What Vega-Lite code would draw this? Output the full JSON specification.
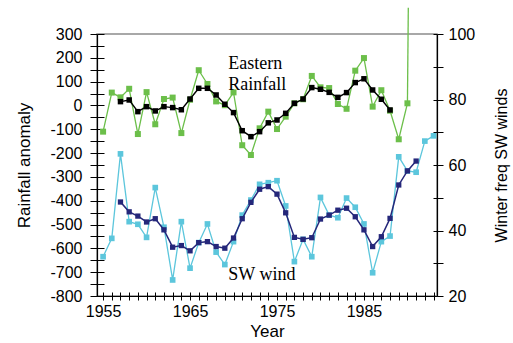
{
  "$schema": "https://vega.github.io/schema/vega-lite/v6.json",
  "width": 340,
  "height": 262,
  "autosize": {"type": "none"},
  "padding": {"left": 97, "top": 34, "right": 76, "bottom": 47},
  "background": "white",
  "config": {
    "font": "Liberation Sans",
    "view": {"stroke": "#8c8c8c", "strokeWidth": 1.5},
    "axis": {"grid": false, "domainColor": "#000", "tickColor": "#000", "labelColor": "#000", "titleColor": "#000", "labelFontSize": 16, "titleFontSize": 17, "titleFontWeight": "normal", "labelOverlap": false, "labelFlush": false, "domainWidth": 1.2, "tickWidth": 1}
  },
  "datasets": {
    "east": [
      {"year": 1955, "east": -110}, {"year": 1956, "east": 54}, {"year": 1957, "east": 34}, {"year": 1958, "east": 70},
      {"year": 1959, "east": -120}, {"year": 1960, "east": 56}, {"year": 1961, "east": -79}, {"year": 1962, "east": 27},
      {"year": 1963, "east": 33}, {"year": 1964, "east": -116}, {"year": 1965, "east": 24}, {"year": 1966, "east": 148},
      {"year": 1967, "east": 90}, {"year": 1968, "east": 17}, {"year": 1969, "east": 1}, {"year": 1970, "east": 55},
      {"year": 1971, "east": -167}, {"year": 1972, "east": -208}, {"year": 1973, "east": -96}, {"year": 1974, "east": -26},
      {"year": 1975, "east": -99}, {"year": 1976, "east": -47}, {"year": 1977, "east": 9}, {"year": 1978, "east": 26},
      {"year": 1979, "east": 124}, {"year": 1980, "east": 76}, {"year": 1981, "east": 73}, {"year": 1982, "east": 6},
      {"year": 1983, "east": -14}, {"year": 1984, "east": 146}, {"year": 1985, "east": 199}, {"year": 1986, "east": -5},
      {"year": 1987, "east": 64}, {"year": 1988, "east": -22}, {"year": 1989, "east": -142}, {"year": 1990, "east": 9}
    ],
    "spike": [{"year": 1990, "east": 9}, {"year": 1990.1, "east": 410}],
    "eastSmooth": [
      {"year": 1957, "east": 16}, {"year": 1958, "east": 23}, {"year": 1959, "east": -26}, {"year": 1960, "east": -5},
      {"year": 1961, "east": -23}, {"year": 1962, "east": -5}, {"year": 1963, "east": -9}, {"year": 1964, "east": -18},
      {"year": 1965, "east": 27}, {"year": 1966, "east": 72}, {"year": 1967, "east": 72}, {"year": 1968, "east": 44},
      {"year": 1969, "east": 5}, {"year": 1970, "east": -30}, {"year": 1971, "east": -106}, {"year": 1972, "east": -131},
      {"year": 1973, "east": -110}, {"year": 1974, "east": -73}, {"year": 1975, "east": -61}, {"year": 1976, "east": -33},
      {"year": 1977, "east": 9}, {"year": 1978, "east": 27}, {"year": 1979, "east": 75}, {"year": 1980, "east": 68},
      {"year": 1981, "east": 55}, {"year": 1982, "east": 34}, {"year": 1983, "east": 54}, {"year": 1984, "east": 96},
      {"year": 1985, "east": 112}, {"year": 1986, "east": 65}, {"year": 1987, "east": 26}, {"year": 1988, "east": -19}
    ],
    "wind": [
      {"year": 1955, "sw": 32}, {"year": 1956, "sw": 37.6}, {"year": 1957, "sw": 63.4}, {"year": 1958, "sw": 42.7},
      {"year": 1959, "sw": 41.9}, {"year": 1960, "sw": 37.9}, {"year": 1961, "sw": 53.1}, {"year": 1962, "sw": 41},
      {"year": 1963, "sw": 24.9}, {"year": 1964, "sw": 42.7}, {"year": 1965, "sw": 28.5}, {"year": 1966, "sw": 36.3},
      {"year": 1967, "sw": 42}, {"year": 1968, "sw": 33.4}, {"year": 1969, "sw": 29.6}, {"year": 1970, "sw": 36.6},
      {"year": 1971, "sw": 44.7}, {"year": 1972, "sw": 49.3}, {"year": 1973, "sw": 54.1}, {"year": 1974, "sw": 54.6},
      {"year": 1975, "sw": 55.2}, {"year": 1976, "sw": 47.5}, {"year": 1977, "sw": 30.5}, {"year": 1978, "sw": 37.3},
      {"year": 1979, "sw": 32}, {"year": 1980, "sw": 50.1}, {"year": 1981, "sw": 44.7}, {"year": 1982, "sw": 43.9},
      {"year": 1983, "sw": 49.9}, {"year": 1984, "sw": 47.1}, {"year": 1985, "sw": 42}, {"year": 1986, "sw": 27.1},
      {"year": 1987, "sw": 36.6}, {"year": 1988, "sw": 38.3}, {"year": 1989, "sw": 62.5}, {"year": 1990, "sw": 58.2},
      {"year": 1991, "sw": 57.8}, {"year": 1992, "sw": 67.3}, {"year": 1993, "sw": 68.9}
    ],
    "windSmooth": [
      {"year": 1957, "sw": 48.7}, {"year": 1958, "sw": 45.7}, {"year": 1959, "sw": 44.4}, {"year": 1960, "sw": 42.6},
      {"year": 1961, "sw": 43.6}, {"year": 1962, "sw": 40.2}, {"year": 1963, "sw": 34.9}, {"year": 1964, "sw": 35.4},
      {"year": 1965, "sw": 33.8}, {"year": 1966, "sw": 36.3}, {"year": 1967, "sw": 36.6}, {"year": 1968, "sw": 35.1},
      {"year": 1969, "sw": 34.6}, {"year": 1970, "sw": 37.7}, {"year": 1971, "sw": 43.6}, {"year": 1972, "sw": 48.6},
      {"year": 1973, "sw": 52.6}, {"year": 1974, "sw": 53.4}, {"year": 1975, "sw": 51.1}, {"year": 1976, "sw": 45.4},
      {"year": 1977, "sw": 37.9}, {"year": 1978, "sw": 37.3}, {"year": 1979, "sw": 37.8}, {"year": 1980, "sw": 43.5},
      {"year": 1981, "sw": 44.7}, {"year": 1982, "sw": 46.2}, {"year": 1983, "sw": 46.8}, {"year": 1984, "sw": 44.2},
      {"year": 1985, "sw": 40.2}, {"year": 1986, "sw": 35.1}, {"year": 1987, "sw": 38.1}, {"year": 1988, "sw": 43.7},
      {"year": 1989, "sw": 53.9}, {"year": 1990, "sw": 58.2}, {"year": 1991, "sw": 61.2}
    ],
    "notes": [
      {"year": 1969.4, "east": 153, "text": "Eastern"},
      {"year": 1969.4, "east": 65, "text": "Rainfall"},
      {"year": 1969.4, "east": -733, "text": "SW wind"}
    ]
  },
  "layer": [
    {
      "encoding": {
        "x": {"field": "year", "type": "quantitative",
          "scale": {"domain": [1954.3, 1993.4], "nice": false, "zero": false},
          "axis": {"orient": "bottom", "title": "Year",
            "values": [1955,1956,1957,1958,1959,1960,1961,1962,1963,1964,1965,1966,1967,1968,1969,1970,1971,1972,1973,1974,1975,1976,1977,1978,1979,1980,1981,1982,1983,1984,1985,1986,1987,1988,1989,1990,1991,1992,1993],
            "labelExpr": "(datum.value - 1955) % 10 === 0 ? '' + datum.value : ''",
            "tickSize": 4, "labelPadding": 3, "titlePadding": 4}},
        "y": {"field": "east", "type": "quantitative",
          "scale": {"domain": [-800, 300], "nice": false, "zero": false},
          "axis": {"orient": "left", "title": "Rainfall anomaly",
            "values": [-800,-750,-700,-650,-600,-550,-500,-450,-400,-350,-300,-250,-200,-150,-100,-50,0,50,100,150,200,250,300],
            "labelExpr": "datum.value % 100 === 0 ? '' + datum.value : ''",
            "tickSize": 7, "labelPadding": 8, "titlePadding": 16}}
      },
      "layer": [
        {"data": {"name": "east"}, "mark": {"type": "line", "color": "#6cbf4a", "strokeWidth": 1.3}},
        {"data": {"name": "spike"}, "mark": {"type": "line", "color": "#6cbf4a", "strokeWidth": 1.3, "clip": false}},
        {"data": {"name": "east"}, "mark": {"type": "point", "shape": "square", "filled": true, "size": 36, "color": "#6cbf4a", "opacity": 1}},
        {"data": {"name": "eastSmooth"}, "mark": {"type": "line", "color": "#000", "strokeWidth": 1.4}},
        {"data": {"name": "eastSmooth"}, "mark": {"type": "point", "shape": "square", "filled": true, "size": 30, "color": "#000", "opacity": 1}}
      ]
    },
    {
      "data": {"name": "wind"},
      "encoding": {
        "x": {"field": "year", "type": "quantitative",
          "scale": {"domain": [1954.3, 1993.4], "nice": false, "zero": false},
          "axis": {"orient": "bottom", "title": null, "labels": false, "domain": false,
            "values": [1955,1956,1957,1958,1959,1960,1961,1962,1963,1964,1965,1966,1967,1968,1969,1970,1971,1972,1973,1974,1975,1976,1977,1978,1979,1980,1981,1982,1983,1984,1985,1986,1987,1988,1989,1990,1991,1992,1993],
            "tickSize": -4}},
        "y": {"field": "sw", "type": "quantitative",
          "scale": {"domain": [20, 100], "nice": false, "zero": false},
          "axis": {"orient": "right", "title": "Winter freq  SW winds",
            "values": [20,30,40,50,60,70,80,90,100],
            "labelExpr": "datum.value % 20 === 0 ? '' + datum.value : ''",
            "tickSize": 6, "labelPadding": 5, "titlePadding": 35, "titleFontSize": 16, "titleAngle": 270, "titleBaseline": "bottom"}}
      },
      "layer": [
        {"mark": {"type": "line", "color": "#5cc6dc", "strokeWidth": 1.3}},
        {"mark": {"type": "point", "shape": "square", "filled": true, "size": 32, "color": "#5cc6dc", "opacity": 1}}
      ]
    },
    {
      "data": {"name": "windSmooth"},
      "encoding": {
        "x": {"field": "year", "type": "quantitative",
          "scale": {"domain": [1954.3, 1993.4], "nice": false, "zero": false}, "axis": null},
        "y": {"field": "sw", "type": "quantitative",
          "scale": {"domain": [20, 100], "nice": false, "zero": false},
          "axis": {"orient": "right", "title": null, "labels": false, "domain": false,
            "values": [20,30,40,50,60,70,80,90,100], "tickSize": -4}}
      },
      "layer": [
        {"mark": {"type": "line", "color": "#25277a", "strokeWidth": 1.5}},
        {"mark": {"type": "point", "shape": "square", "filled": true, "size": 28, "color": "#25277a", "opacity": 1}}
      ]
    },
    {
      "data": {"name": "notes"},
      "mark": {"type": "text", "font": "Liberation Serif", "fontSize": 18, "align": "left", "baseline": "alphabetic", "color": "#000"},
      "encoding": {
        "x": {"field": "year", "type": "quantitative",
          "scale": {"domain": [1954.3, 1993.4], "nice": false, "zero": false}, "axis": null},
        "y": {"field": "east", "type": "quantitative",
          "scale": {"domain": [-800, 300], "nice": false, "zero": false},
          "axis": {"orient": "left", "title": null, "labels": false, "domain": false,
            "values": [-800,-750,-700,-650,-600,-550,-500,-450,-400,-350,-300,-250,-200,-150,-100,-50,0,50,100,150,200,250,300],
            "tickSize": -7}},
        "text": {"field": "text"}
      }
    }
  ],
  "resolve": {"scale": {"y": "independent"}, "axis": {"x": "independent", "y": "independent"}}
}
